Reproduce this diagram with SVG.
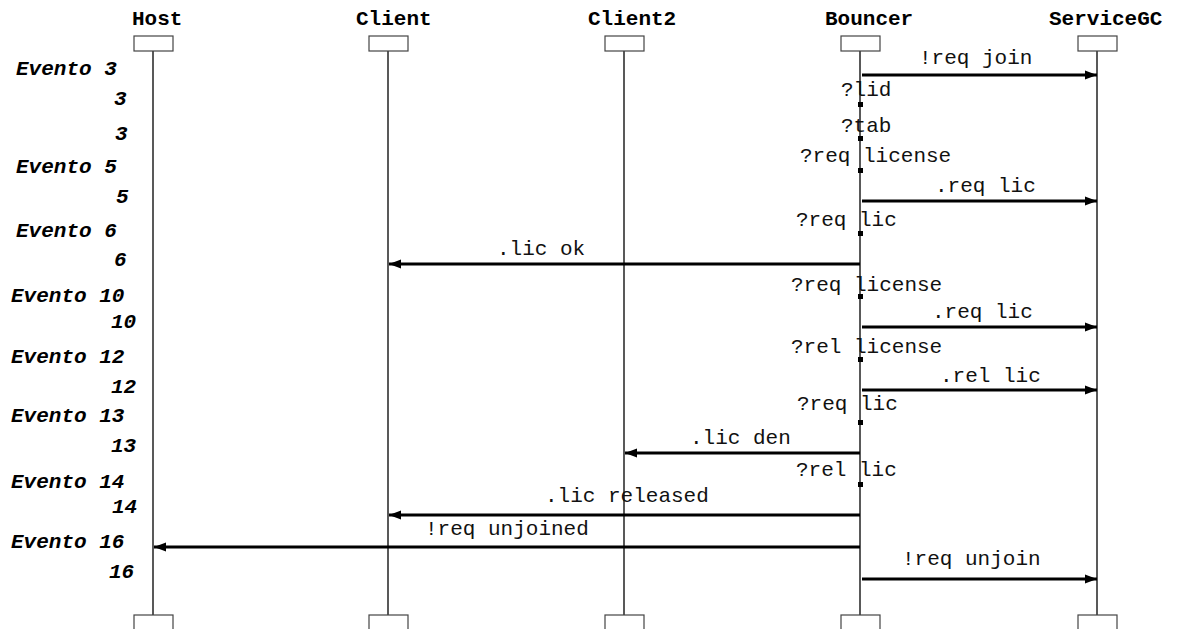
<svg xmlns="http://www.w3.org/2000/svg" width="1181" height="629" viewBox="0 0 1181 629">
<style>
.name{font-family:"Liberation Mono","Courier New",monospace;font-size:21px;font-weight:bold;fill:#000}
.ev{font-family:"Liberation Mono","Courier New",monospace;font-size:21px;font-weight:bold;font-style:italic;fill:#000}
.lbl{font-family:"Liberation Mono","Courier New",monospace;font-size:21px;fill:#111}
.box{fill:#fff;stroke:#444;stroke-width:1.2}
.life{stroke:#222;stroke-width:1.5}
.msg{stroke:#000;stroke-width:3;fill:none}
.mk{fill:#000}
</style>
<defs>
<marker id="ah" markerUnits="userSpaceOnUse" markerWidth="12" markerHeight="10" refX="12" refY="5" orient="auto">
<path d="M0,0.5 L12,5 L0,9.5 z" fill="#000"/>
</marker>
</defs>
<rect width="1181" height="629" fill="#fff"/>

<g id="host">
<line class="life" x1="153" y1="51" x2="153" y2="615"/>
<rect class="box" x="134" y="36" width="39" height="15"/>
<rect class="box" x="134" y="615" width="39" height="15"/>
<text class="name" x="132" y="25">Host</text>
</g>
<g id="client">
<line class="life" x1="388" y1="51" x2="388" y2="615"/>
<rect class="box" x="369" y="36" width="39" height="15"/>
<rect class="box" x="369" y="615" width="39" height="15"/>
<text class="name" x="356" y="25">Client</text>
</g>
<g id="client2">
<line class="life" x1="624" y1="51" x2="624" y2="615"/>
<rect class="box" x="605" y="36" width="39" height="15"/>
<rect class="box" x="605" y="615" width="39" height="15"/>
<text class="name" x="588" y="25">Client2</text>
</g>
<g id="bouncer">
<line class="life" x1="860" y1="51" x2="860" y2="615"/>
<rect class="box" x="841" y="36" width="39" height="15"/>
<rect class="box" x="841" y="615" width="39" height="15"/>
<text class="name" x="825" y="25">Bouncer</text>
</g>
<g id="servicegc">
<line class="life" x1="1097" y1="51" x2="1097" y2="615"/>
<rect class="box" x="1078" y="36" width="39" height="15"/>
<rect class="box" x="1078" y="615" width="39" height="15"/>
<text class="name" x="1049" y="25">ServiceGC</text>
</g>

<g id="connectors">
<line class="msg" x1="862" y1="75" x2="1097" y2="75" marker-end="url(#ah)"/>
<line class="msg" x1="862" y1="201" x2="1097" y2="201" marker-end="url(#ah)"/>
<line class="msg" x1="860" y1="264" x2="389" y2="264" marker-end="url(#ah)"/>
<line class="msg" x1="862" y1="327" x2="1097" y2="327" marker-end="url(#ah)"/>
<line class="msg" x1="862" y1="390" x2="1097" y2="390" marker-end="url(#ah)"/>
<line class="msg" x1="860" y1="453" x2="625" y2="453" marker-end="url(#ah)"/>
<line class="msg" x1="860" y1="515" x2="389" y2="515" marker-end="url(#ah)"/>
<line class="msg" x1="860" y1="547" x2="154" y2="547" marker-end="url(#ah)"/>
<line class="msg" x1="862" y1="579" x2="1097" y2="579" marker-end="url(#ah)"/>
</g>

<g id="receive-marks">
<rect class="mk" x="858" y="102" width="5" height="5"/>
<rect class="mk" x="858" y="136" width="5" height="5"/>
<rect class="mk" x="858" y="168" width="5" height="5"/>
<rect class="mk" x="858" y="231" width="5" height="5"/>
<rect class="mk" x="858" y="294" width="5" height="5"/>
<rect class="mk" x="858" y="357" width="5" height="5"/>
<rect class="mk" x="858" y="420" width="5" height="5"/>
<rect class="mk" x="858" y="482" width="5" height="5"/>
</g>

<g id="labels">
<text class="lbl" x="919" y="64">!req join</text>
<text class="lbl" x="841" y="96">?lid</text>
<text class="lbl" x="841" y="132">?tab</text>
<text class="lbl" x="800" y="162">?req license</text>
<text class="lbl" x="935" y="192">.req lic</text>
<text class="lbl" x="796" y="226">?req lic</text>
<text class="lbl" x="497" y="255">.lic ok</text>
<text class="lbl" x="791" y="291">?req license</text>
<text class="lbl" x="932" y="318">.req lic</text>
<text class="lbl" x="791" y="353">?rel license</text>
<text class="lbl" x="940" y="382">.rel lic</text>
<text class="lbl" x="797" y="410">?req lic</text>
<text class="lbl" x="690" y="444">.lic den</text>
<text class="lbl" x="796" y="476">?rel lic</text>
<text class="lbl" x="545" y="502">.lic released</text>
<text class="lbl" x="425" y="535">!req unjoined</text>
<text class="lbl" x="902" y="565">!req unjoin</text>
</g>

<g id="events">
<text class="ev" x="16" y="75">Evento 3</text>
<text class="ev" x="114" y="105">3</text>
<text class="ev" x="115" y="140">3</text>
<text class="ev" x="16" y="173">Evento 5</text>
<text class="ev" x="116" y="203">5</text>
<text class="ev" x="16" y="237">Evento 6</text>
<text class="ev" x="114" y="266">6</text>
<text class="ev" x="11" y="302">Evento 10</text>
<text class="ev" x="111" y="328">10</text>
<text class="ev" x="11" y="363">Evento 12</text>
<text class="ev" x="111" y="393">12</text>
<text class="ev" x="11" y="422">Evento 13</text>
<text class="ev" x="111" y="452">13</text>
<text class="ev" x="11" y="488">Evento 14</text>
<text class="ev" x="112" y="513">14</text>
<text class="ev" x="11" y="548">Evento 16</text>
<text class="ev" x="109" y="578">16</text>
</g>
</svg>
